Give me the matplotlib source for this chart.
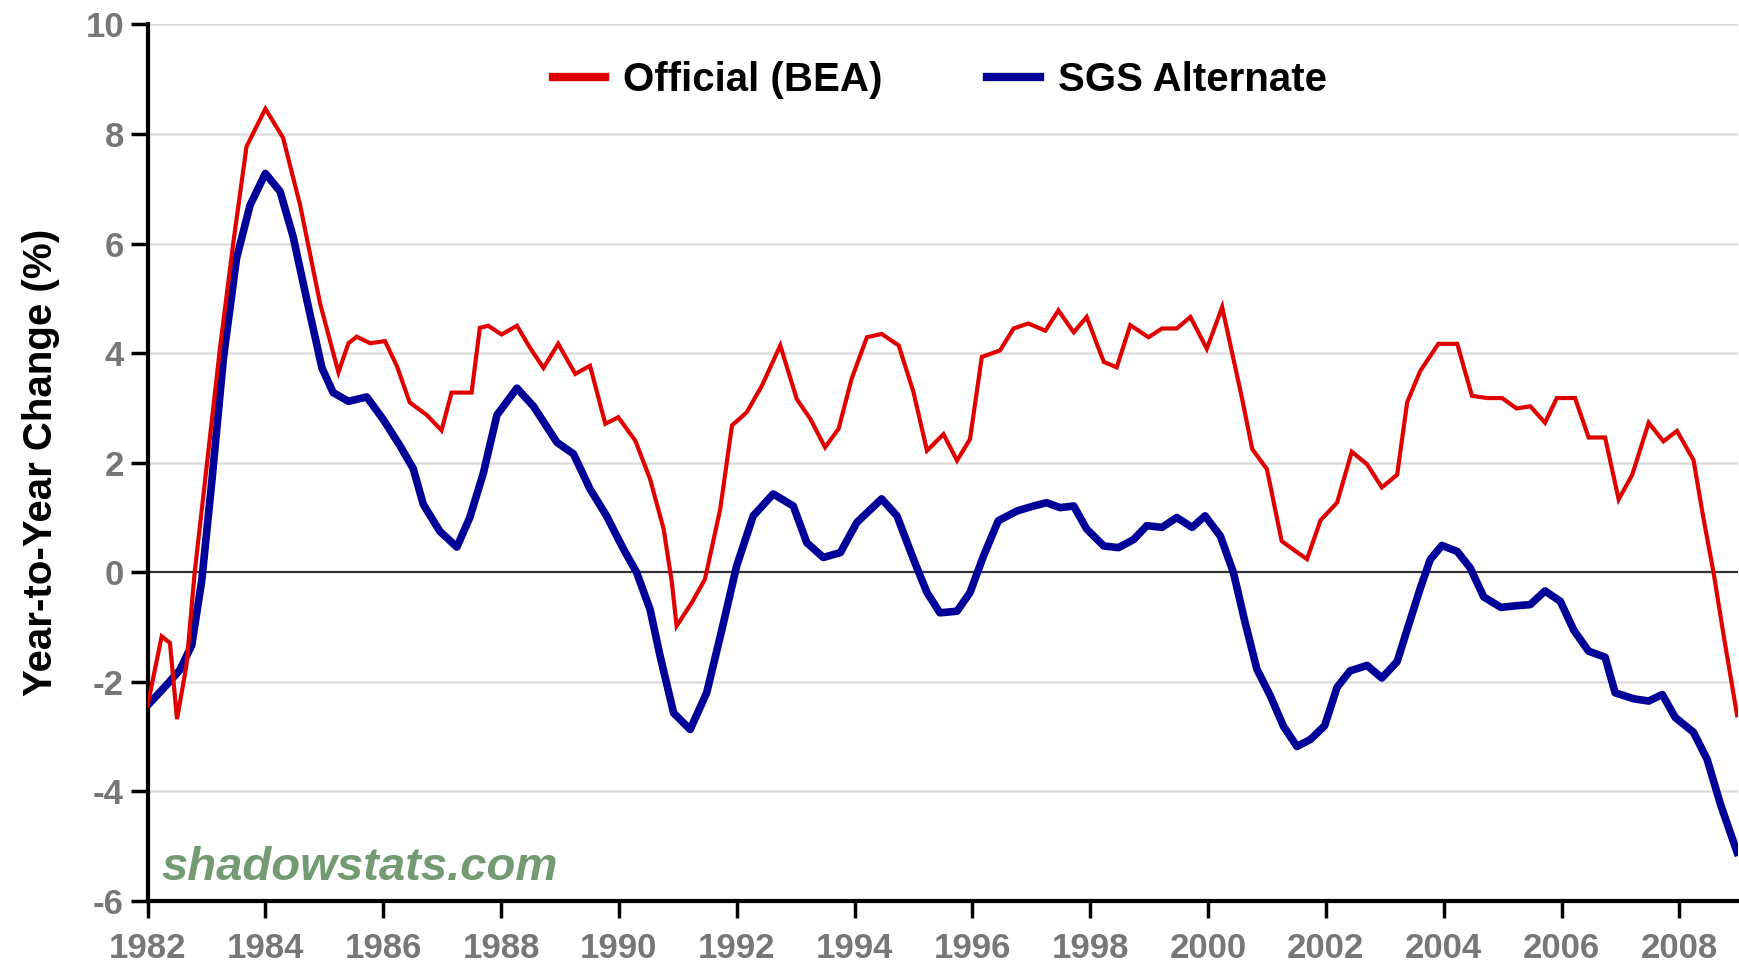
import matplotlib
matplotlib.use('Agg')
import matplotlib.pyplot as plt
from matplotlib.lines import Line2D

# Official (BEA) year-to-year change
official_x = [1982.0, 1982.24, 1982.38, 1982.50, 1982.66, 1982.80, 1983.0, 1983.23, 1983.46, 1983.68,
              1984.0, 1984.3, 1984.59, 1984.93, 1985.24, 1985.41, 1985.55, 1985.78, 1986.03, 1986.23,
              1986.45, 1986.74, 1986.99, 1987.16, 1987.5, 1987.64, 1987.78, 1988.01, 1988.27, 1988.49,
              1988.72, 1988.97, 1989.26, 1989.51, 1989.77, 1989.99, 1990.28, 1990.53, 1990.76, 1990.90,
              1990.98, 1991.24, 1991.46, 1991.72, 1991.92, 1992.17, 1992.43, 1992.74, 1993.02, 1993.25,
              1993.5, 1993.73, 1993.95, 1994.21, 1994.46, 1994.75, 1995.0, 1995.23, 1995.51, 1995.74,
              1995.96, 1996.16, 1996.47, 1996.70, 1996.95, 1997.24, 1997.46, 1997.72, 1997.94, 1998.23,
              1998.45, 1998.68, 1998.99, 1999.22, 1999.47, 1999.70, 1999.98, 2000.24, 2000.43, 2000.58,
              2000.75, 2001.0, 2001.25, 2001.48, 2001.68, 2001.91, 2002.19, 2002.44, 2002.70, 2002.95,
              2003.21, 2003.38, 2003.60, 2003.91, 2004.23, 2004.48, 2004.74, 2004.99, 2005.24, 2005.47,
              2005.72, 2005.92, 2006.23, 2006.46, 2006.74, 2006.97, 2007.2, 2007.48, 2007.73, 2007.96,
              2008.24, 2008.41, 2008.58, 2008.75, 2008.98]
official_y = [-2.43, -1.17, -1.29, -2.68, -1.7, 0.0, 1.9, 4.1, 6.05, 7.77,
              8.46, 7.93, 6.7, 4.9, 3.65, 4.18, 4.3, 4.18, 4.22, 3.77,
              3.1, 2.87, 2.59, 3.28, 3.28, 4.46, 4.5, 4.34, 4.5, 4.1,
              3.73, 4.17, 3.62, 3.77, 2.71, 2.83, 2.4, 1.70, 0.79, -0.19,
              -0.98, -0.55, -0.13, 1.15, 2.68, 2.92, 3.41, 4.14, 3.16, 2.8,
              2.28, 2.62, 3.53, 4.29, 4.35, 4.14, 3.29, 2.22, 2.52, 2.04,
              2.43, 3.93, 4.05, 4.45, 4.54, 4.41, 4.78, 4.38, 4.66, 3.84,
              3.74, 4.51, 4.29, 4.45, 4.45, 4.66, 4.08, 4.84, 3.9, 3.16,
              2.25, 1.88, 0.57, 0.39, 0.24, 0.95, 1.27, 2.2, 1.97, 1.55,
              1.78, 3.1, 3.67, 4.17, 4.17, 3.22, 3.18, 3.18, 2.99, 3.03,
              2.73, 3.18, 3.18, 2.46, 2.46, 1.33, 1.78, 2.73, 2.39, 2.58,
              2.05, 0.98, 0.0, -1.14, -2.61]

# SGS Alternate year-to-year change
sgs_x = [1982.0, 1982.32, 1982.55, 1982.75, 1982.92, 1983.09, 1983.29, 1983.51, 1983.74, 1984.0,
         1984.25, 1984.47, 1984.7, 1984.96, 1985.15, 1985.41, 1985.72, 1986.0, 1986.29, 1986.51,
         1986.68, 1986.96, 1987.25, 1987.47, 1987.7, 1987.93, 1988.27, 1988.55, 1988.95, 1989.23,
         1989.51, 1989.79, 1990.08, 1990.30, 1990.53, 1990.70, 1990.93, 1991.21, 1991.49, 1991.75,
         1992.0, 1992.28, 1992.62, 1992.96, 1993.19, 1993.47, 1993.76, 1994.04, 1994.46, 1994.72,
         1995.0, 1995.23, 1995.45, 1995.74, 1995.96, 1996.19, 1996.44, 1996.76, 1997.04, 1997.26,
         1997.49, 1997.72, 1997.94, 1998.23, 1998.48, 1998.74, 1998.96, 1999.22, 1999.47, 1999.73,
         1999.95, 2000.21, 2000.43, 2000.63, 2000.83, 2001.06, 2001.28, 2001.51, 2001.74, 2001.98,
         2002.19, 2002.41, 2002.70, 2002.95, 2003.21, 2003.40, 2003.60, 2003.77, 2003.97, 2004.23,
         2004.45, 2004.68, 2004.97, 2005.24, 2005.47, 2005.72, 2005.98, 2006.21, 2006.46, 2006.74,
         2006.91, 2007.23, 2007.48, 2007.71, 2007.93, 2008.24, 2008.47, 2008.70, 2008.98]
sgs_y = [-2.43, -2.06, -1.78, -1.33, -0.15, 1.65, 3.93, 5.73, 6.7, 7.28,
         6.95, 6.13, 4.99, 3.73, 3.28, 3.12, 3.2, 2.79, 2.3, 1.89,
         1.24, 0.75, 0.46, 1.0, 1.81, 2.87, 3.36, 3.03, 2.37, 2.16,
         1.52, 1.03, 0.42, 0.0, -0.68, -1.53, -2.57, -2.87, -2.2, -1.04,
         0.12, 1.03, 1.43, 1.21, 0.54, 0.27, 0.36, 0.91, 1.34, 1.03,
         0.24, -0.37, -0.74, -0.71, -0.37, 0.3, 0.94, 1.12, 1.21, 1.27,
         1.18, 1.21, 0.79, 0.48, 0.45, 0.6, 0.85, 0.82, 1.0, 0.82,
         1.03, 0.66, 0.0, -0.92, -1.77, -2.26, -2.81, -3.18, -3.05, -2.8,
         -2.1, -1.8, -1.7, -1.93, -1.63, -0.98, -0.3, 0.23, 0.49, 0.38,
         0.08, -0.45, -0.64, -0.61, -0.59, -0.34, -0.53, -1.06, -1.44, -1.55,
         -2.2, -2.31, -2.35, -2.23, -2.65, -2.92, -3.41, -4.24, -5.11]

year_ticks = list(range(1982, 2009, 2))
value_ticks = list(range(-6, 11, 2))

red = '#e00000'
blue = '#000099'
tick_gray = '#777777'

plt.rcParams['font.family'] = ['Liberation Sans', 'DejaVu Sans']
plt.rcParams['axes.unicode_minus'] = False

fig = plt.figure(figsize=(17.4, 9.68), dpi=100)
ax = fig.add_axes([0.0848, 0.0692, 0.9142, 0.9056])

# grid
for v in value_ticks:
    if v == 0:
        ax.axhline(v, color='#333333', lw=1.6, zorder=1)
    elif v > -6:
        ax.axhline(v, color='#dddddd', lw=1.8, zorder=0)

ax.plot(official_x, official_y, color=red, lw=3.0, zorder=3, solid_joinstyle='miter')
ax.plot(sgs_x, sgs_y, color=blue, lw=5.5, zorder=2, solid_joinstyle='round')

ax.set_xlim(1982, 2009.0)
ax.set_ylim(-6, 10)
ax.set_xticks(year_ticks)
ax.set_yticks(value_ticks)
ax.set_xticklabels([str(y) for y in year_ticks])

for side in ['top', 'right']:
    ax.spines[side].set_visible(False)
for side in ['left', 'bottom']:
    ax.spines[side].set_linewidth(3)
    ax.spines[side].set_color('black')

ax.tick_params(axis='both', direction='out', length=12, width=2.5, color='black',
               labelcolor=tick_gray, labelsize=25)
ax.tick_params(axis='x', pad=10)
ax.tick_params(axis='y', pad=5)
for lab in ax.get_xticklabels() + ax.get_yticklabels():
    lab.set_fontweight('bold')

ax.set_ylabel('Year-to-Year Change (%)', fontsize=29, fontweight='bold', labelpad=18)

handles = [Line2D([0], [0], color=red, lw=6), Line2D([0], [0], color=blue, lw=6)]
leg = ax.legend(handles, ['Official (BEA)', 'SGS Alternate'], loc='center',
                bbox_to_anchor=(0.498, 0.937), ncol=2, frameon=False,
                handlelength=1.3, handletextpad=0.45, columnspacing=2.6,
                prop={'size': 29, 'weight': 'bold'})

ax.text(0.009, 0.038, 'shadowstats.com', transform=ax.transAxes, fontsize=34,
        fontstyle='italic', fontweight='bold', color='#739a73', ha='left', va='center')

fig.savefig('out.png', dpi=100)
